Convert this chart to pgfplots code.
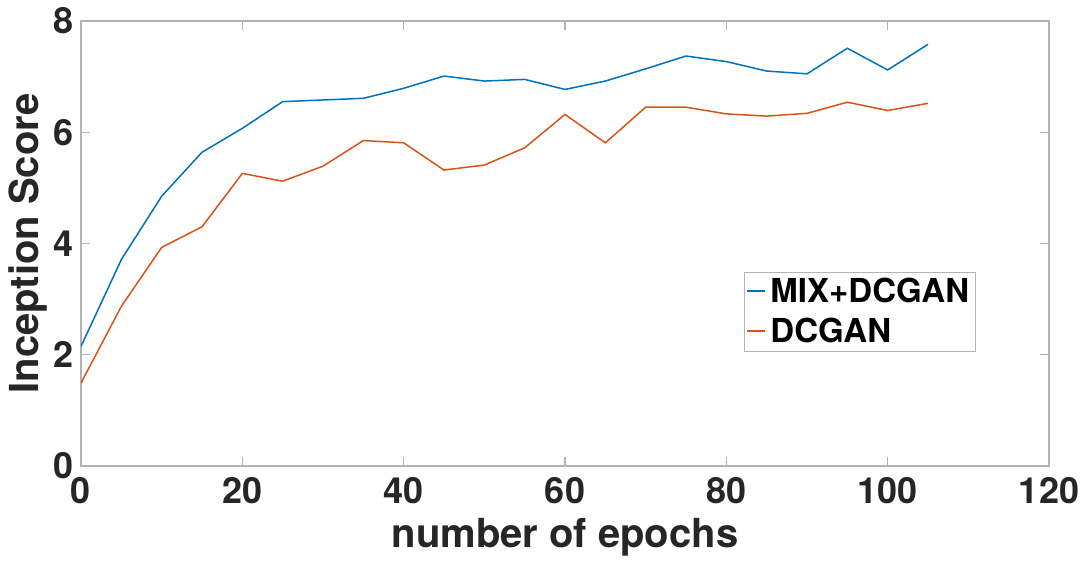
\documentclass[border=0pt]{standalone}
\usepackage{fontspec}
\setmainfont{TeX Gyre Heros}
\usepackage{pgfplots}
\pgfplotsset{compat=1.18}
\definecolor{mblue}{rgb}{0,0.447,0.741}
\definecolor{morange}{rgb}{0.85,0.325,0.098}
\definecolor{txt}{HTML}{262626}
\definecolor{axgray}{HTML}{B3B3B3}
\begin{document}
\begin{tikzpicture}
\begin{axis}[
    scale only axis,
    width=484pt, height=222.5pt,
    xmin=0, xmax=120, ymin=0, ymax=8,
    xtick={0,20,...,120}, ytick={0,2,...,8},
    tick align=inside,
    major tick length=4.5pt,
    axis line style={axgray, line width=0.6pt},
    every tick/.style={axgray, line width=0.6pt},
    /pgf/number format/assume math mode=true,
    tick label style={font=\fontsize{18}{18}\selectfont\bfseries, text=txt},
    label style={font=\fontsize{20}{20}\selectfont\bfseries, text=txt},
    xlabel={number of epochs},
    ylabel={Inception Score},
    xlabel style={at={(axis description cs:0.5,-0.16)}, anchor=center},
    ylabel style={at={(axis description cs:-0.0548,0.5)}, anchor=center},
    xticklabel style={yshift=-2pt},
    legend style={at={(0.685,0.436)}, anchor=north west, draw=axgray,
        font=\fontsize{16.5}{18}\selectfont\bfseries,
        inner sep=1pt, row sep=2pt},
    legend cell align=left,
    legend image code/.code={\draw[#1, line width=1pt] (0pt,0.5pt) -- (9pt,0.5pt);},
]
\addplot[mblue, line width=0.75pt] coordinates {
(0,2.15) (5,3.71) (10,4.85) (15,5.64) (20,6.07) (25,6.55) (30,6.58)
(35,6.61) (40,6.79) (45,7.01) (50,6.92) (55,6.95) (60,6.77) (65,6.92)
(70,7.14) (75,7.37) (80,7.27) (85,7.10) (90,7.05) (95,7.51) (100,7.12)
(105,7.58)
};
\addlegendentry{MIX+DCGAN}
\addplot[morange, line width=0.75pt] coordinates {
(0,1.49) (5,2.87) (10,3.93) (15,4.30) (20,5.26) (25,5.12) (30,5.39)
(35,5.85) (40,5.81) (45,5.32) (50,5.41) (55,5.72) (60,6.32) (65,5.81)
(70,6.45) (75,6.45) (80,6.33) (85,6.29) (90,6.34) (95,6.54) (100,6.39)
(105,6.52)
};
\addlegendentry{DCGAN}
\end{axis}
\pgfresetboundingbox
\path ([xshift=-40.5pt,yshift=-51.5pt]current axis.south west)
    rectangle ([xshift=18.5pt,yshift=10.5pt]current axis.north east);
\end{tikzpicture}
\end{document}
